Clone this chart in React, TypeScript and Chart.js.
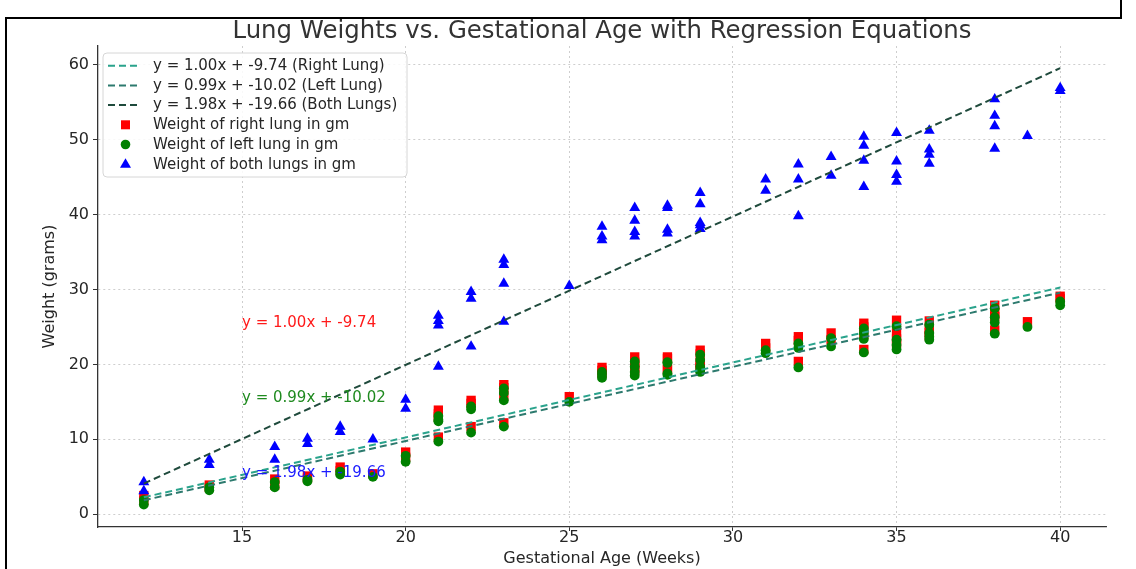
import React, { useEffect, useRef } from "react";
import { Chart, registerables } from "chart.js";

Chart.register(...registerables);

// Gestational age (weeks) of each sample
const ages = [
  12, 12, 14, 14, 16, 16, 17, 17, 18, 18, 19, 20, 20,
  21, 21, 21, 21, 22, 22, 22, 23, 23, 23, 23, 25,
  26, 26, 26, 27, 27, 27, 27, 28, 28, 28, 28,
  29, 29, 29, 29, 29, 31, 31, 32, 32, 32, 33, 33,
  34, 34, 34, 34, 35, 35, 35, 35, 36, 36, 36, 36,
  38, 38, 38, 38, 39, 40, 40,
];

const rightLung = [
  2.5, 1.8, 3.9, 3.6, 4.7, 3.9, 5.1, 4.8, 6.3, 5.8, 5.4, 8.3, 7.6,
  13.9, 13.4, 13.0, 10.3, 15.2, 14.8, 11.7, 17.3, 16.9, 15.8, 12.2, 15.7,
  19.6, 19.2, 18.8, 21.0, 20.3, 19.7, 19.2, 21.0, 20.8, 19.5, 19.3,
  21.9, 21.4, 20.2, 19.9, 19.6, 22.8, 22.2, 23.7, 23.2, 20.4, 24.2, 23.3,
  25.5, 25.0, 24.0, 22.0, 25.9, 24.2, 23.4, 22.8, 25.8, 24.7, 24.3, 23.8,
  27.9, 26.9, 26.4, 24.6, 25.7, 29.1, 28.8,
];

const leftLung = [
  1.9, 1.3, 3.6, 3.2, 4.3, 3.6, 4.6, 4.4, 5.7, 5.3, 5.0, 7.8, 7.0,
  13.1, 12.6, 12.4, 9.7, 14.4, 14.0, 10.9, 16.8, 16.2, 15.2, 11.7, 15.0,
  19.0, 18.6, 18.2, 20.4, 19.7, 19.0, 18.5, 20.3, 20.2, 18.8, 18.6,
  21.3, 20.6, 19.7, 19.2, 19.0, 21.9, 21.5, 22.8, 22.2, 19.6, 23.5, 22.4,
  24.8, 24.2, 23.4, 21.6, 25.1, 23.3, 22.6, 22.0, 25.3, 24.2, 23.7, 23.3,
  27.5, 26.3, 25.6, 24.1, 25.0, 28.4, 27.9,
];

const bothLungs = [
  4.3, 3.1, 7.3, 6.6, 9.0, 7.3, 10.1, 9.4, 11.7, 11.0, 10.0, 15.3, 14.1,
  26.5, 25.8, 25.2, 19.7, 29.7, 28.8, 22.4, 34.0, 33.3, 30.8, 25.7, 30.5,
  38.4, 37.1, 36.6, 40.9, 39.2, 37.7, 37.1, 41.2, 40.9, 38.0, 37.5,
  42.9, 41.4, 38.9, 38.6, 38.1, 44.7, 43.2, 46.7, 44.7, 39.8, 47.7, 45.2,
  50.4, 49.2, 47.2, 43.7, 50.9, 47.1, 45.3, 44.4, 51.2, 48.7, 48.0, 46.8,
  55.4, 53.2, 51.8, 48.8, 50.5, 56.9, 56.5,
];

// Regression equations: right, left, both
const slopes = [1.0, 0.99, 1.98];
const intercepts = [-9.74, -10.02, -19.66];
const lineNames = ["Right Lung", "Left Lung", "Both Lungs"];
const fitRange = [12, 40];

const xTicks = [15, 20, 25, 30, 35, 40];
const yTicks = [0, 10, 20, 30, 40, 50, 60];

const TITLE = "Lung Weights vs. Gestational Age with Regression Equations";
const FONT = "'DejaVu Sans', 'Liberation Sans', sans-serif";
const TEXT = "#262626";
const lineColors = ["#2aa38c", "#2d7a6e", "#1f4a3c"];
const eqColors = ["#ff1a1a", "#1f8a1f", "#1a1aff"];
const eqY = [25, 15, 5];

const fmt = (v: number) => v.toFixed(2);
const eqText = (i: number) => `y = ${fmt(slopes[i])}x + ${fmt(intercepts[i])}`;

const toPoints = (ys: number[]) => ages.map((a, i) => ({ x: a, y: ys[i] }));
const linePoints = (i: number) =>
  fitRange.map((x) => ({ x, y: slopes[i] * x + intercepts[i] }));

function drawMarker(ctx: CanvasRenderingContext2D, kind: string, x: number, y: number, color: string) {
  ctx.fillStyle = color;
  ctx.beginPath();
  if (kind === "rect") {
    ctx.rect(x - 4.5, y - 4.5, 9, 9);
  } else if (kind === "circle") {
    ctx.arc(x, y, 4.8, 0, Math.PI * 2);
  } else {
    ctx.moveTo(x, y - 6);
    ctx.lineTo(x + 5.5, y + 3.5);
    ctx.lineTo(x - 5.5, y + 3.5);
    ctx.closePath();
  }
  ctx.fill();
}

const titlePlugin = {
  id: "axesTitle",
  afterDraw(chart: any) {
    const { ctx, chartArea } = chart;
    ctx.save();
    ctx.font = `24.4px ${FONT}`;
    ctx.fillStyle = "#333333";
    ctx.textAlign = "center";
    ctx.textBaseline = "middle";
    ctx.fillText(TITLE, (chartArea.left + chartArea.right) / 2, 31.5);
    ctx.restore();
  },
};

const annotationPlugin = {
  id: "eqAnnotations",
  afterDatasetsDraw(chart: any) {
    const { ctx, scales } = chart;
    ctx.save();
    ctx.font = `15px ${FONT}`;
    ctx.textAlign = "left";
    ctx.textBaseline = "alphabetic";
    for (let i = 0; i < 3; i++) {
      ctx.fillStyle = eqColors[i];
      ctx.fillText(eqText(i), scales.x.getPixelForValue(15), scales.y.getPixelForValue(eqY[i]));
    }
    ctx.restore();
  },
};

const legendPlugin = {
  id: "mplLegend",
  afterDraw(chart: any) {
    const { ctx, chartArea } = chart;
    const x0 = chartArea.left + 5;
    const y0 = chartArea.top + 7;
    const w = 304;
    const h = 124;
    ctx.save();
    ctx.beginPath();
    const r = 4;
    ctx.moveTo(x0 + r, y0);
    ctx.lineTo(x0 + w - r, y0);
    ctx.quadraticCurveTo(x0 + w, y0, x0 + w, y0 + r);
    ctx.lineTo(x0 + w, y0 + h - r);
    ctx.quadraticCurveTo(x0 + w, y0 + h, x0 + w - r, y0 + h);
    ctx.lineTo(x0 + r, y0 + h);
    ctx.quadraticCurveTo(x0, y0 + h, x0, y0 + h - r);
    ctx.lineTo(x0, y0 + r);
    ctx.quadraticCurveTo(x0, y0, x0 + r, y0);
    ctx.closePath();
    ctx.fillStyle = "rgba(255,255,255,0.85)";
    ctx.fill();
    ctx.strokeStyle = "#d6d6d6";
    ctx.lineWidth = 1;
    ctx.stroke();

    const entries: { label: string; kind: string; color: string }[] = [
      ...lineNames.map((n, i) => ({ label: `${eqText(i)} (${n})`, kind: "line", color: lineColors[i] })),
      { label: "Weight of right lung in gm", kind: "rect", color: "#ff0000" },
      { label: "Weight of left lung in gm", kind: "circle", color: "#008000" },
      { label: "Weight of both lungs in gm", kind: "triangle", color: "#0000ff" },
    ];
    ctx.font = `15px ${FONT}`;
    ctx.textBaseline = "middle";
    ctx.textAlign = "left";
    entries.forEach((e, i) => {
      const yc = y0 + 12.7 + i * 19.7;
      if (e.kind === "line") {
        ctx.save();
        ctx.strokeStyle = e.color;
        ctx.lineWidth = 2;
        ctx.setLineDash([7, 4]);
        ctx.beginPath();
        ctx.moveTo(x0 + 5, yc);
        ctx.lineTo(x0 + 38, yc);
        ctx.stroke();
        ctx.restore();
      } else {
        drawMarker(ctx, e.kind, x0 + 22.5, yc, e.color);
      }
      ctx.fillStyle = TEXT;
      ctx.fillText(e.label, x0 + 50, yc + 0.5);
    });
    ctx.restore();
  },
};

export default function App() {
  const canvasRef = useRef<HTMLCanvasElement | null>(null);

  useEffect(() => {
    if (!canvasRef.current) return;
    const lineDs = [0, 1, 2].map((i) => ({
      type: "line" as const,
      label: `${eqText(i)} (${lineNames[i]})`,
      data: linePoints(i),
      showLine: true,
      borderColor: lineColors[i],
      backgroundColor: lineColors[i],
      borderWidth: 2,
      borderDash: [7, 4],
      pointRadius: 0,
      fill: false,
      order: 2 - i,
    }));
    const chart = new Chart(canvasRef.current, {
      type: "scatter",
      data: {
        datasets: [
          ...lineDs,
          {
            label: "Weight of both lungs in gm",
            data: toPoints(bothLungs),
            pointStyle: "triangle",
            pointRadius: 6.3,
            pointBorderWidth: 0,
            backgroundColor: "#0000ff",
            borderColor: "#0000ff",
            order: 3,
          },
          {
            label: "Weight of left lung in gm",
            data: toPoints(leftLung),
            pointStyle: "circle",
            pointRadius: 4.9,
            pointBorderWidth: 0,
            backgroundColor: "#008000",
            borderColor: "#008000",
            order: 4,
          },
          {
            label: "Weight of right lung in gm",
            data: toPoints(rightLung),
            pointStyle: "rect",
            pointRadius: 6.6,
            pointBorderWidth: 0,
            backgroundColor: "#ff0000",
            borderColor: "#ff0000",
            order: 5,
          },
        ],
      },
      options: {
        animation: false,
        responsive: false,
        events: [],
        layout: { padding: { left: 0, right: 30, top: 46, bottom: 0 } },
        plugins: {
          legend: { display: false },
          tooltip: { enabled: false },
          title: { display: false },
        },
        scales: {
          x: {
            type: "linear",
            min: 10.6,
            max: 41.4,
            afterBuildTicks: (s: any) => {
              s.ticks = xTicks.map((v) => ({ value: v }));
            },
            afterFit: (s: any) => {
              s.height = 42;
            },
            grid: {
              color: "#c8c8c8",
              lineWidth: 0.9,
              drawTicks: true,
              tickLength: 4,
              tickColor: "#333333",
              tickWidth: 1,
              tickBorderDash: [],
            },
            border: { display: true, color: "#333333", width: 1.3, dash: [2, 3] },
            ticks: {
              color: TEXT,
              font: { family: FONT, size: 16 },
              padding: -3,
              maxRotation: 0,
              autoSkip: false,
            },
            title: {
              display: true,
              text: "Gestational Age (Weeks)",
              color: TEXT,
              font: { family: FONT, size: 16 },
              padding: { top: 0, bottom: 1 },
            },
          },
          y: {
            type: "linear",
            min: -1.7,
            max: 62.5,
            afterBuildTicks: (s: any) => {
              s.ticks = yTicks.map((v) => ({ value: v }));
            },
            afterFit: (s: any) => {
              s.width = 98;
            },
            grid: {
              color: "#c8c8c8",
              lineWidth: 0.9,
              drawTicks: true,
              tickLength: 5,
              tickColor: "#333333",
              tickWidth: 1,
              tickBorderDash: [],
            },
            border: { display: true, color: "#333333", width: 1.3, dash: [2, 3] },
            ticks: {
              color: TEXT,
              font: { family: FONT, size: 16 },
              padding: 4,
              autoSkip: false,
            },
            title: {
              display: true,
              text: "Weight (grams)",
              color: TEXT,
              font: { family: FONT, size: 16 },
              padding: { top: 40, bottom: 0 },
            },
          },
        },
      },
      plugins: [annotationPlugin, legendPlugin, titlePlugin],
    } as any);
    return () => chart.destroy();
  }, []);

  return (
    <div style={{ position: "absolute", left: 0, top: 0, width: 1136, height: 569, background: "#fff", overflow: "hidden" }}>
      <canvas ref={canvasRef} width={1136} height={569} style={{ display: "block", position: "absolute", left: 0, top: 0 }} />
      <div style={{ position: "absolute", left: 5, top: 17, width: 1117, height: 2, background: "#000" }} />
      <div style={{ position: "absolute", left: 5, top: 17, width: 2, height: 560, background: "#000" }} />
      <div style={{ position: "absolute", left: 1120, top: 0, width: 2, height: 19, background: "#000" }} />
    </div>
  );
}
